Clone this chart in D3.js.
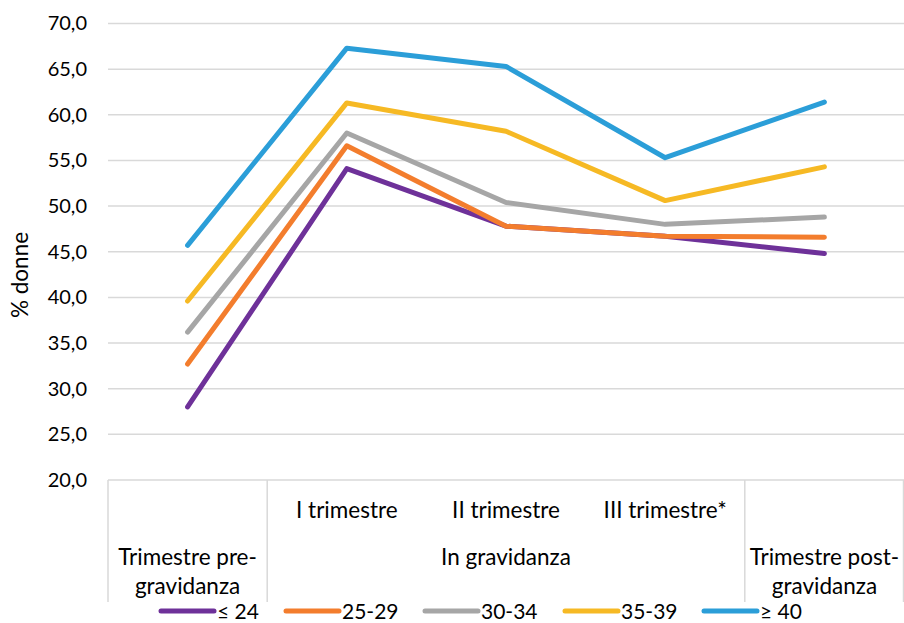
<!DOCTYPE html>
<html>
<head>
<meta charset="utf-8">
<script src="https://cdn.jsdelivr.net/npm/d3@7"></script>
<style>
  html, body { margin: 0; padding: 0; background: #fff; }
  svg { display: block; font-family: Lato, "Open Sans", sans-serif; }
</style>
</head>
<body>
<svg id="chart" width="904" height="623"></svg>
<script>
// Categories along the x axis (one per quarter)
const categories = ["pre", "I", "II", "III", "post"];
// Inner axis labels (trimester of pregnancy)
const innerLabels = ["", "I trimestre", "II trimestre", "III trimestre*", ""];
// Outer axis groups: label lines and the range of categories they span
const groupLabels = [["Trimestre pre-", "gravidanza"], ["In gravidanza"], ["Trimestre post-", "gravidanza"]];
const groupStart = [0, 1, 4];
const groupEnd = [0, 3, 4];

// Age classes and their values (% donne)
const seriesNames = ["≤ 24", "25-29", "30-34", "35-39", "≥ 40"];
const seriesColors = ["#6E3199", "#F37D2D", "#A6A6A6", "#F6B924", "#2B9ED8"];
const valuesLe24 = [28.0, 54.1, 47.8, 46.7, 44.8];
const values25_29 = [32.7, 56.6, 47.8, 46.7, 46.6];
const values30_34 = [36.2, 58.0, 50.4, 48.0, 48.8];
const values35_39 = [39.6, 61.3, 58.2, 50.6, 54.3];
const valuesGe40 = [45.7, 67.3, 65.3, 55.3, 61.4];
const seriesValues = [valuesLe24, values25_29, values30_34, values35_39, valuesGe40];

// Y axis ticks
const yTicks = [20, 25, 30, 35, 40, 45, 50, 55, 60, 65, 70];
const yTitle = "% donne";

const svg = d3.select("#chart");
const plotLeft = 108, plotRight = 904, plotTop = 23.5, plotBottom = 480;
const labelSize = 22.5;

const x = d3.scaleBand().domain(categories).range([plotLeft, plotRight]).padding(0);
const y = d3.scaleLinear().domain([20, 70]).range([plotBottom, plotTop]);
const fmt = v => d3.format(".1f")(v).replace(".", ",");

// Horizontal gridlines
svg.append("g")
  .selectAll("line")
  .data(yTicks.filter(t => t > 20))
  .join("line")
  .attr("x1", plotLeft).attr("x2", plotRight)
  .attr("y1", d => y(d)).attr("y2", d => y(d))
  .attr("stroke", "#d9d9d9").attr("stroke-width", 1.5);

// Y axis labels
const yAxis = d3.axisLeft(y).tickValues(yTicks).tickFormat(fmt).tickSize(0).tickPadding(21);
const yg = svg.append("g").attr("transform", `translate(${plotLeft},0)`).call(yAxis);
yg.select(".domain").remove();
yg.selectAll("text")
  .attr("font-family", "Lato, sans-serif")
  .attr("font-size", 20)
  .attr("fill", "#000");

// Y axis title
svg.append("text")
  .attr("transform", `translate(28,275) rotate(-90)`)
  .attr("text-anchor", "middle")
  .attr("font-size", labelSize)
  .attr("fill", "#000")
  .text(yTitle);

// Multi-level category axis
const axisG = svg.append("g");
axisG.append("line")
  .attr("x1", plotLeft).attr("x2", plotRight).attr("y1", plotBottom).attr("y2", plotBottom)
  .attr("stroke", "#d9d9d9").attr("stroke-width", 1.5);
const separators = [plotLeft, x("I"), x("III") + x.bandwidth(), plotRight - 0.5];
axisG.selectAll("line.sep")
  .data(separators)
  .join("line")
  .attr("class", "sep")
  .attr("x1", d => d).attr("x2", d => d)
  .attr("y1", plotBottom).attr("y2", 602)
  .attr("stroke", "#d9d9d9").attr("stroke-width", 1.5);

axisG.selectAll("text.inner")
  .data(innerLabels)
  .join("text")
  .attr("class", "inner")
  .attr("x", (d, i) => x(categories[i]) + x.bandwidth() / 2)
  .attr("y", 518)
  .attr("text-anchor", "middle")
  .attr("font-size", labelSize)
  .text(d => d);

groupLabels.forEach((lines, gi) => {
  const cx = (x(categories[groupStart[gi]]) + x(categories[groupEnd[gi]]) + x.bandwidth()) / 2;
  lines.forEach((t, li) => {
    axisG.append("text")
      .attr("x", cx)
      .attr("y", 565 + li * 29)
      .attr("text-anchor", "middle")
      .attr("font-size", labelSize)
      .text(t);
  });
});

// Series lines
const line = d3.line()
  .x((d, i) => x(categories[i]) + x.bandwidth() / 2)
  .y(d => y(d));

svg.append("g")
  .selectAll("path")
  .data(seriesValues)
  .join("path")
  .attr("d", d => line(d))
  .attr("fill", "none")
  .attr("stroke", (d, i) => seriesColors[i])
  .attr("stroke-width", 5)
  .attr("stroke-linecap", "round")
  .attr("stroke-linejoin", "round");

// Legend
const legendX = [161, 286, 425, 565, 704];
const legend = svg.append("g")
  .selectAll("g")
  .data(seriesNames)
  .join("g")
  .attr("transform", (d, i) => `translate(${legendX[i]},611)`);
legend.append("rect")
  .attr("x", 0).attr("y", -8).attr("width", 60).attr("height", 16)
  .attr("fill", "#fff");
legend.append("line")
  .attr("x1", 0).attr("x2", 53).attr("y1", 0).attr("y2", 0)
  .attr("stroke", (d, i) => seriesColors[i])
  .attr("stroke-width", 5)
  .attr("stroke-linecap", "round");
legend.append("text")
  .attr("x", 56).attr("y", 8)
  .attr("font-size", 21)
  .text(d => d);
</script>
</body>
</html>
